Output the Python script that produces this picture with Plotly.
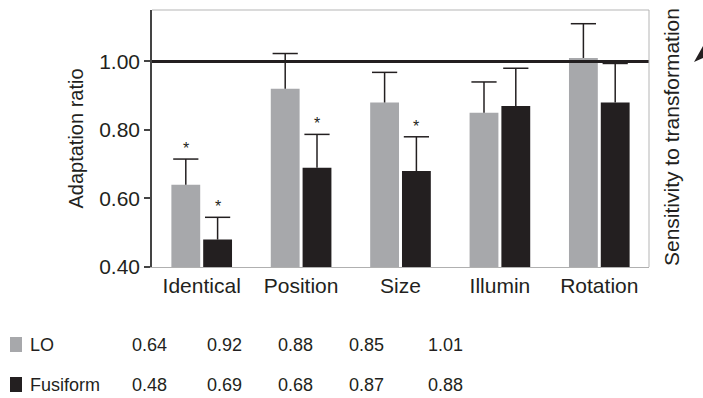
import plotly.graph_objects as go

categories = ["Identical", "Position", "Size", "Illumin", "Rotation"]
lo_values = [0.64, 0.92, 0.88, 0.85, 1.01]
fus_values = [0.48, 0.69, 0.68, 0.87, 0.88]
lo_err = [0.075, 0.103, 0.088, 0.09, 0.10]
fus_err = [0.065, 0.097, 0.10, 0.11, 0.114]
lo_sig = [True, False, False, False, False]
fus_sig = [True, True, True, False, False]
series_names = ["LO", "Fusiform"]
yticks = [0.40, 0.60, 0.80, 1.00]

GRAY = "#a7a8ab"
BLACK = "#231f20"
FONT = "Liberation Sans, Arial, sans-serif"

W, H = 703, 398
L, R, T, B = 152, 649, 10, 267


def px(x):
    return (x - L) / (R - L)


def py(y):
    return (B - y) / (B - T)


x = list(range(len(categories)))
bw = 0.29
shift = 0.16

fig = go.Figure()
fig.add_trace(go.Bar(
    x=x, y=lo_values, width=bw, offset=-0.305, marker_color=GRAY,
    marker_line_width=0, name=series_names[0],
))
fig.add_trace(go.Bar(
    x=x, y=fus_values, width=bw, offset=0.015, marker_color=BLACK,
    marker_line_width=0, name=series_names[1],
))

# one-sided error bars (upper only): stems + caps
for vals, errs, sgn in [(lo_values, lo_err, -1), (fus_values, fus_err, 1)]:
    sx, sy = [], []
    for i, (v, e) in enumerate(zip(vals, errs)):
        sx += [i + sgn * shift, i + sgn * shift, None]
        sy += [v, v + e, None]
    fig.add_trace(go.Scatter(x=sx, y=sy, mode="lines", line=dict(color=BLACK, width=1.5),
                             hoverinfo="skip", showlegend=False))
    fig.add_trace(go.Scatter(x=[i + sgn * shift for i in x],
                             y=[v + e for v, e in zip(vals, errs)], mode="markers",
                             marker=dict(symbol="line-ew", size=18,
                                         line=dict(color=BLACK, width=1.5)),
                             hoverinfo="skip", showlegend=False))

annotations = []
for i in x:
    if lo_sig[i]:
        annotations.append(dict(x=i - shift, y=lo_values[i] + lo_err[i], xref="x", yref="y",
                                text="*", showarrow=False, yanchor="bottom", yshift=0,
                                font=dict(family=FONT, size=16, color=BLACK)))
    if fus_sig[i]:
        annotations.append(dict(x=i + shift, y=fus_values[i] + fus_err[i], xref="x", yref="y",
                                text="*", showarrow=False, yanchor="bottom", yshift=0,
                                font=dict(family=FONT, size=16, color=BLACK)))

# right-side title
annotations.append(dict(x=px(671), y=py(137), xref="paper", yref="paper",
                        text="Sensitivity to transformation", textangle=-90,
                        showarrow=False, xanchor="center", yanchor="middle",
                        font=dict(family=FONT, size=21, color=BLACK)))

# table below
row_y = [345, 385]
val_x = [149, 224, 295, 366, 445]
rows = [lo_values, fus_values]
colors = [GRAY, BLACK]
shapes = []
for r, (vals, name, col) in enumerate(zip(rows, series_names, colors)):
    yc = row_y[r]
    shapes.append(dict(type="rect", xref="paper", yref="paper",
                       x0=px(10), x1=px(22), y0=py(yc - 8), y1=py(yc + 7),
                       fillcolor=col, line_width=0))
    annotations.append(dict(x=px(28), y=py(yc), xref="paper", yref="paper", text=name,
                            showarrow=False, xanchor="left", yanchor="middle",
                            font=dict(family=FONT, size=18, color=BLACK)))
    for i, v in enumerate(vals):
        annotations.append(dict(x=px(val_x[i]), y=py(yc), xref="paper", yref="paper",
                                text=f"{v:.2f}", showarrow=False, xanchor="center",
                                yanchor="middle",
                                font=dict(family=FONT, size=18, color=BLACK)))

# reference line at 1.00
shapes.append(dict(type="line", xref="paper", yref="y", x0=0, x1=1, y0=1.0, y1=1.0,
                   line=dict(color=BLACK, width=3)))
# top and right frame
shapes.append(dict(type="line", xref="paper", yref="paper", x0=0, x1=1, y0=1, y1=1,
                   line=dict(color="#b5b5b5", width=1)))
shapes.append(dict(type="line", xref="paper", yref="paper", x0=1, x1=1, y0=0, y1=1,
                   line=dict(color="#b5b5b5", width=1)))
# partial arrowhead at top right
shapes.append(dict(type="path", xref="paper", yref="paper",
                   path=f"M {px(694)} {py(62)} L {px(703)} {py(46)} L {px(703)} {py(58)} Z",
                   fillcolor=BLACK, line_width=0))

fig.update_layout(
    width=W, height=H,
    margin=dict(l=L, r=W - R, t=T, b=H - B),
    paper_bgcolor="white", plot_bgcolor="white",
    showlegend=False,
    barmode="overlay",
    annotations=annotations,
    shapes=shapes,
    font=dict(family=FONT, color=BLACK),
)
fig.update_xaxes(
    range=[-0.5, len(categories) - 0.5], tickvals=x, ticktext=categories,
    showline=True, linecolor="#b0b0b0", linewidth=1, ticks="", showgrid=False,
    zeroline=False, tickfont=dict(family=FONT, size=21, color=BLACK),
)
fig.update_yaxes(
    range=[0.40, 1.15], tickvals=yticks, ticktext=[f"{t:.2f}" for t in yticks],
    showline=True, linecolor="#444444", linewidth=1.5, ticks="outside", ticklen=6,
    tickcolor="#444444", tickwidth=1.5, showgrid=False, zeroline=False,
    tickfont=dict(family=FONT, size=21, color=BLACK),
    title=dict(text="Adaptation ratio", font=dict(family=FONT, size=20, color=BLACK),
               standoff=10),
)

fig.write_html("out.html")
